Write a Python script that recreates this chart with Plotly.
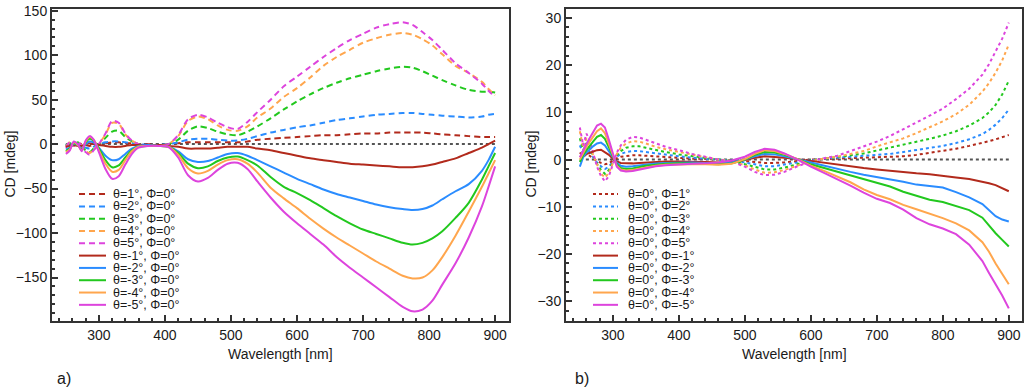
import plotly.graph_objects as go

# ---------------- Panel a) data ----------------
WL_A = [250, 256, 262, 268, 274, 280, 286, 292, 300, 310, 320, 330, 340, 350, 360, 375, 390, 405,
        420, 435, 450, 465, 480, 495, 510, 525, 540, 560, 580, 600, 620, 640, 660, 680, 700, 720,
        740, 760, 775, 790, 805, 820, 840, 860, 880, 890, 900]

A_theta_p1 = [-1, 0, 0, 1, 0, -1, -2, -1, 0, 1, 2, 2, 1, 1, 0, 0, -1, 0, 1, 2, 2, 2, 2, 2, 2, 3, 5, 6, 7, 8,
              9, 10, 10, 11, 12, 12, 13, 13, 13, 13, 12, 11, 10, 9, 8, 8, 8]
A_theta_p2 = [-1, 1, -1, 1, -2, -4, -5, -3, 0, 2, 3, 3, 2, 1, 0, -1, -1, 0, 2, 5, 6, 6, 5, 4, 4, 6, 9, 13,
              16, 19, 21, 24, 27, 29, 31, 33, 34, 35, 35, 34, 33, 32, 31, 30, 31, 33, 34]
A_theta_p3 = [-2, 1, -2, 2, -3, -7, -9, -5, 0, 7, 14, 15, 8, 3, 0, -2, -2, 0, 5, 15, 20, 18, 14, 11, 10,
              14, 20, 29, 39, 48, 56, 63, 69, 74, 78, 82, 85, 87, 86, 82, 77, 72, 66, 61, 59, 59, 58]
A_theta_p4 = [-3, 2, -2, 2, -3, -8, -10, -6, 0, 11, 24, 23, 11, 4, 0, -2, -2, 0, 9, 26, 31, 28, 21, 16,
              15, 20, 30, 40, 53, 63, 75, 88, 98, 106, 114, 119, 123, 125, 123, 118, 111, 101, 88, 80,
              70, 62, 55]
A_theta_p5 = [-4, 2, -2, 3, -3, -9, -12, -7, 0, 12, 26, 24, 12, 4, 0, -2, -2, 0, 10, 28, 33, 30, 24, 19,
              17, 25, 36, 50, 65, 76, 87, 98, 108, 117, 124, 131, 135, 137, 134, 126, 117, 106, 91, 80,
              68, 60, 53]
A_theta_m1 = [-3, -2, -1, -2, -2, 0, 1, 0, -1, -2, -3, -3, -2, -1, -1, -1, -1, -2, -3, -5, -5, -5, -4, -3,
              -3, -3, -5, -7, -10, -13, -16, -18, -20, -22, -23, -24, -25, -26, -26, -25, -23, -20, -16,
              -10, -4, 0, 4]
A_theta_m2 = [-6, -4, 0, -1, -5, 0, 3, 2, -4, -13, -18, -17, -11, -5, -2, -1, -2, -3, -8, -17, -20, -19,
              -15, -11, -10, -13, -18, -25, -32, -39, -45, -51, -56, -60, -64, -68, -71, -73, -74, -73,
              -69, -62, -53, -45, -30, -18, -3]
A_theta_m3 = [-8, -5, 1, -1, -6, 2, 6, 4, -5, -18, -26, -24, -15, -7, -3, -2, -2, -3, -10, -22, -27, -25,
              -19, -15, -14, -18, -24, -37, -48, -55, -63, -72, -81, -89, -96, -101, -106, -111, -113,
              -111, -106, -98, -83, -66, -40, -25, -10]
A_theta_m4 = [-9, -6, 2, -1, -7, 3, 8, 5, -7, -22, -31, -29, -18, -8, -3, -2, -2, -3, -12, -27, -33, -30,
              -23, -18, -17, -22, -32, -49, -61, -72, -84, -95, -105, -114, -123, -132, -140, -148, -151,
              -150, -142, -127, -103, -76, -48, -33, -18]
A_theta_m5 = [-11, -7, 3, 0, -8, 4, 9, 5, -9, -28, -39, -36, -23, -11, -4, -2, -2, -3, -15, -35, -42, -38,
              -29, -22, -21, -28, -42, -60, -76, -89, -101, -113, -127, -139, -150, -161, -172, -183, -188,
              -186, -176, -158, -134, -105, -70, -48, -25]

A_labels = ["θ=1°, Φ=0°", "θ=2°, Φ=0°", "θ=3°, Φ=0°", "θ=4°, Φ=0°", "θ=5°, Φ=0°",
            "θ=-1°, Φ=0°", "θ=-2°, Φ=0°", "θ=-3°, Φ=0°", "θ=-4°, Φ=0°", "θ=-5°, Φ=0°"]

# ---------------- Panel b) data ----------------
WL_B = [250, 255, 260, 265, 270, 276, 282, 288, 294, 300, 306, 312, 320, 330, 340, 350, 365, 380, 400,
        420, 440, 460, 480, 500, 515, 530, 545, 560, 580, 600, 620, 640, 660, 680, 700, 720, 740, 760,
        780, 800, 820, 840, 860, 870, 880, 890, 900]

B_phi_p1 = [1.5, 0.6, 1.1, 0.8, 0.2, -0.3, -0.7, -1, -0.8, -0.2, 0.3, 0.6, 0.8, 0.9, 0.9, 0.8, 0.6, 0.5,
            0.3, 0.2, 0.1, 0, -0.1, -0.3, -0.5, -0.7, -0.7, -0.6, -0.3, 0, 0.1, 0.2, 0.3, 0.4, 0.5, 0.6,
            0.7, 1, 1.4, 1.8, 2.3, 2.9, 3.5, 3.9, 4.3, 4.7, 5.2]
B_phi_p2 = [3, 1.3, 2.3, 1.6, 0.5, -0.6, -1.4, -2, -1.5, -0.4, 0.6, 1.2, 1.6, 1.8, 1.8, 1.6, 1.3, 1, 0.7,
            0.4, 0.2, 0, -0.2, -0.6, -1, -1.4, -1.4, -1.1, -0.6, -0.1, 0.2, 0.4, 0.6, 0.8, 1, 1.2, 1.6, 2,
            2.4, 2.9, 3.5, 4.3, 5.4, 6.3, 7.4, 8.8, 10.6]
B_phi_p3 = [4.5, 2, 3.5, 2.5, 0.8, -0.9, -2.2, -3, -2.2, -0.6, 0.9, 1.8, 2.5, 2.8, 2.8, 2.5, 2, 1.6, 1.1,
            0.7, 0.3, 0, -0.3, -0.9, -1.5, -2.1, -2.1, -1.7, -0.9, -0.2, 0.2, 0.5, 0.9, 1.3, 1.9, 2.5, 3.1,
            3.8, 4.4, 5.1, 6, 7.2, 8.8, 10, 11.6, 13.8, 16.7]
B_phi_p4 = [6, 2.5, 4.5, 3.2, 1, -1.2, -3, -3.8, -2.8, -0.8, 1.2, 2.5, 3.4, 3.9, 3.8, 3.4, 2.7, 2.2, 1.6,
            1, 0.5, 0, -0.3, -1.2, -2.1, -2.8, -2.7, -2.2, -1.2, -0.3, 0.2, 0.6, 1.2, 1.8, 2.8, 3.6, 4.5,
            5.6, 6.8, 8.1, 9.6, 11.6, 14.4, 16.2, 18.4, 21, 24.4]
B_phi_p5 = [6.8, 3, 5.5, 4, 1.5, -1.5, -3.5, -4.6, -3.5, -1, 1.5, 3, 4.2, 4.8, 4.7, 4.2, 3.4, 2.7, 2,
            1.2, 0.6, 0, -0.4, -1.5, -2.6, -3.3, -3.2, -2.6, -1.4, -0.4, 0.3, 0.8, 1.8, 2.8, 3.8, 5, 6.4,
            7.8, 9.3, 10.8, 12.8, 15, 18, 20.2, 22.8, 25.6, 29]
B_phi_m1 = [0.5, 1, 1.2, 1.5, 1.8, 2, 2.1, 1.6, 1, 0.2, -0.4, -0.7, -0.8, -0.8, -0.7, -0.6, -0.5, -0.4,
            -0.4, -0.4, -0.5, -0.6, -0.5, -0.1, 0.4, 0.7, 0.6, 0.4, 0.1, -0.3, -0.6, -1, -1.4, -1.8, -2.1,
            -2.4, -2.7, -2.9, -3.1, -3.5, -3.8, -4.1, -4.6, -5, -5.4, -6, -6.7]
B_phi_m2 = [-1.5, 0.5, 1.5, 2.2, 2.8, 3.4, 3.6, 3, 1.8, 0.5, -0.7, -1.3, -1.5, -1.4, -1.2, -1, -0.8,
            -0.7, -0.6, -0.6, -0.7, -0.8, -0.6, 0, 0.7, 1.2, 1.1, 0.7, 0.1, -0.6, -1.3, -2, -2.6, -3.2,
            -3.7, -4.1, -4.7, -5.3, -5.6, -5.9, -6.9, -8, -9.4, -10.6, -12, -12.7, -13.1]
B_phi_m3 = [-0.5, 1, 2, 3, 3.8, 4.8, 5.2, 4.4, 2.6, 0.6, -1, -1.8, -2, -1.9, -1.6, -1.3, -1.1, -0.9,
            -0.8, -0.8, -0.9, -1, -0.8, 0, 1, 1.6, 1.5, 1, 0.1, -1, -1.8, -2.6, -3.4, -4.2, -5, -5.7,
            -6.8, -7.7, -8.5, -9, -9.8, -10.7, -12.3, -14, -15.6, -17, -18.4]
B_phi_m4 = [0, 1.5, 2.7, 3.8, 4.8, 6, 6.6, 5.6, 3.3, 0.8, -1.3, -2.1, -2.3, -2.2, -1.9, -1.6, -1.3, -1.1,
            -1, -1, -1, -1.1, -0.9, 0.1, 1.2, 2, 1.8, 1.2, 0.1, -1.3, -2.4, -3.6, -4.8, -6.3, -7.5, -8.4,
            -9.6, -10.5, -11.4, -12.4, -13.5, -15, -17.5, -19.5, -22, -24.2, -26.4]
B_phi_m5 = [0.5, 2, 3.3, 4.6, 5.8, 7.2, 7.6, 6.8, 4.2, 1.2, -1.5, -2.3, -2.5, -2.4, -2.1, -1.8, -1.4,
            -1.2, -1, -0.9, -0.8, -0.6, -0.2, 0.6, 1.6, 2.3, 2.1, 1.3, 0, -1.5, -2.8, -4.1, -5.5, -7,
            -8.3, -9.2, -10.6, -12.4, -13.7, -14.6, -15.8, -18, -21.5, -24, -26.3, -28.8, -31.5]

B_labels = ["θ=0°, Φ=1°", "θ=0°, Φ=2°", "θ=0°, Φ=3°", "θ=0°, Φ=4°", "θ=0°, Φ=5°",
            "θ=0°, Φ=-1°", "θ=0°, Φ=-2°", "θ=0°, Φ=-3°", "θ=0°, Φ=-4°", "θ=0°, Φ=-5°"]

ZERO_WL = [250, 900]
ZERO_VAL = [0, 0]

# ---------------- styles ----------------
COLORS = ["#B22A1C", "#2A8CFF", "#22C81E", "#FFA64D", "#DD44DD"]
W, H = 1024, 391
FONT = "Liberation Sans, Arial, sans-serif"
TXT = "#1a1a1a"

def px(x):
    return x / W

def py(y):
    return 1 - y / H

fig = go.Figure()

A_series = [A_theta_p1, A_theta_p2, A_theta_p3, A_theta_p4, A_theta_p5,
            A_theta_m1, A_theta_m2, A_theta_m3, A_theta_m4, A_theta_m5]
B_series = [B_phi_p1, B_phi_p2, B_phi_p3, B_phi_p4, B_phi_p5,
            B_phi_m1, B_phi_m2, B_phi_m3, B_phi_m4, B_phi_m5]

fig.add_trace(go.Scatter(x=ZERO_WL, y=ZERO_VAL, mode="lines", xaxis="x", yaxis="y",
                         line=dict(color="#555555", width=2, dash="dot"), showlegend=False))
fig.add_trace(go.Scatter(x=ZERO_WL, y=ZERO_VAL, mode="lines", xaxis="x2", yaxis="y2",
                         line=dict(color="#555555", width=2, dash="dot"), showlegend=False))

A_DASH = "6px,4px"
for i, ys in enumerate(A_series):
    c = COLORS[i % 5]
    dash = A_DASH if i < 5 else "solid"
    fig.add_trace(go.Scatter(x=WL_A, y=ys, mode="lines", xaxis="x", yaxis="y",
                             line=dict(color=c, width=2, dash=dash, shape="spline", smoothing=0.8),
                             showlegend=False, name=A_labels[i]))
for i, ys in enumerate(B_series):
    c = COLORS[i % 5]
    dash = "dot" if i < 5 else "solid"
    fig.add_trace(go.Scatter(x=WL_B, y=ys, mode="lines", xaxis="x2", yaxis="y2",
                             line=dict(color=c, width=2, dash=dash),
                             showlegend=False, name=B_labels[i]))

axis_common = dict(showgrid=False, zeroline=False, showline=True, mirror=True,
                   linecolor="#333333", linewidth=2, ticks="inside", ticklen=6, tickwidth=1.5,
                   tickcolor="#333333", ticklabeloverflow="allow",
                   tickfont=dict(family=FONT, size=14, color=TXT))

fig.update_layout(
    width=W, height=H, margin=dict(l=0, r=0, t=0, b=0),
    paper_bgcolor="white", plot_bgcolor="white", showlegend=False,
    xaxis=dict(domain=[px(52), px(509)], range=[229, 921], anchor="y",
               tick0=300, dtick=100, minor=dict(dtick=20, ticks="inside", ticklen=3,
                                                 tickcolor="#333333"), **axis_common),
    yaxis=dict(domain=[py(320), py(3)], range=[-199, 152], anchor="x",
               tick0=0, dtick=50, minor=dict(dtick=10, ticks="inside", ticklen=3,
                                              tickcolor="#333333"), **axis_common),
    xaxis2=dict(domain=[px(566), px(1022)], range=[229, 920], anchor="y2",
                tick0=300, dtick=100, minor=dict(dtick=20, ticks="inside", ticklen=3,
                                                  tickcolor="#333333"), **axis_common),
    yaxis2=dict(domain=[py(320), py(3)], range=[-34.2, 31.9], anchor="x2",
                tick0=0, dtick=10, minor=dict(dtick=2, ticks="inside", ticklen=3,
                                               tickcolor="#333333"), **axis_common),
)

ann = []
shapes = []
# axis titles
for xc in (280, 794):
    ann.append(dict(text="Wavelength [nm]", x=px(xc), y=py(353), xref="paper", yref="paper",
                    showarrow=False, xanchor="center", yanchor="middle",
                    font=dict(family=FONT, size=14, color=TXT)))
for xc in (10, 531):
    ann.append(dict(text="CD [mdeg]", x=px(xc), y=py(161), xref="paper", yref="paper",
                    showarrow=False, textangle=-90, xanchor="center", yanchor="middle",
                    font=dict(family=FONT, size=14, color=TXT)))
# panel labels
ann.append(dict(text="a)", x=px(55), y=py(378), xref="paper", yref="paper", showarrow=False,
                xanchor="left", yanchor="middle", font=dict(family=FONT, size=16, color=TXT)))
ann.append(dict(text="b)", x=px(573), y=py(378), xref="paper", yref="paper", showarrow=False,
                xanchor="left", yanchor="middle", font=dict(family=FONT, size=16, color=TXT)))

# custom legends
def legend(x0, x1, xt, labels, pos_dash):
    for i, lab in enumerate(labels):
        yy = 191 + i * 12.5
        c = COLORS[i % 5]
        dash = pos_dash if i < 5 else "solid"
        shapes.append(dict(type="line", xref="paper", yref="paper",
                           x0=px(x0), x1=px(x1), y0=py(yy), y1=py(yy),
                           line=dict(color=c, width=2, dash=dash)))
        ann.append(dict(text=lab, x=px(xt), y=py(yy), xref="paper", yref="paper",
                        showarrow=False, xanchor="left", yanchor="middle",
                        font=dict(family=FONT, size=12.5, color=TXT)))

legend(79, 106, 111, A_labels, A_DASH)
legend(593, 618, 626, B_labels, "dot")

fig.update_layout(annotations=ann, shapes=shapes)
fig.write_html("out.html", config={"displayModeBar": False},
               post_script="document.body.style.margin='0';document.body.style.overflow='hidden';")
